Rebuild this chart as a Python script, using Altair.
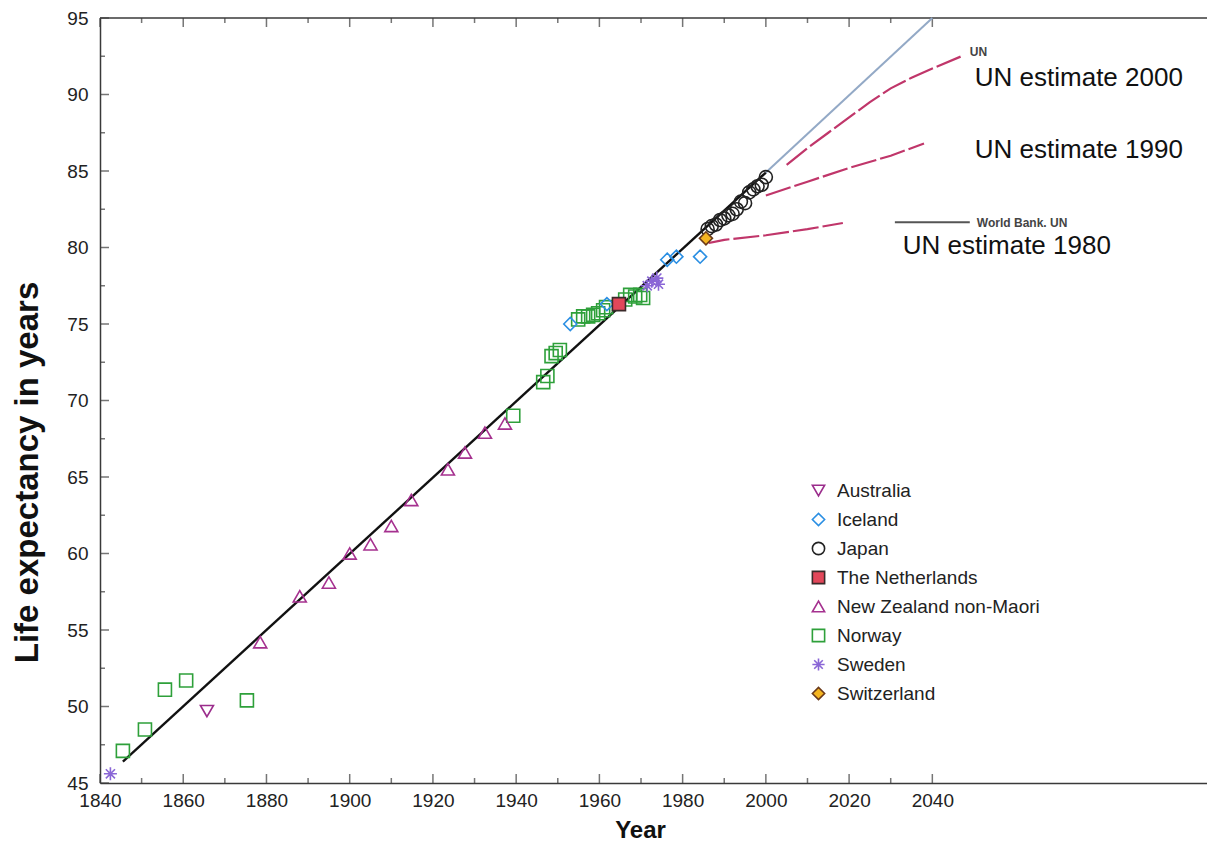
import altair as alt
import pandas as pd

# ---------------- data ----------------
countries = ["Australia", "Iceland", "Japan", "The Netherlands",
             "New Zealand non-Maori", "Norway", "Sweden", "Switzerland"]

australia_year = [1865.7]
australia_le = [49.7]

iceland_year = [1953.0, 1961.8, 1976.3, 1978.5, 1984.2]
iceland_le = [75.0, 76.3, 79.2, 79.4, 79.4]

japan_year = [1986, 1987, 1988, 1989, 1990, 1991, 1992, 1993, 1994, 1995,
              1996, 1997, 1998, 1999, 2000]
japan_le = [81.2, 81.4, 81.5, 81.8, 81.9, 82.1, 82.2, 82.5, 83.0, 82.9,
            83.6, 83.8, 84.0, 84.1, 84.6]

netherlands_year = [1964.7]
netherlands_le = [76.3]

nz_year = [1878.5, 1888.0, 1895.0, 1900.0, 1905.0, 1910.0, 1914.8, 1923.6,
           1927.7, 1932.5, 1937.3]
nz_le = [54.2, 57.2, 58.1, 60.0, 60.6, 61.8, 63.5, 65.5, 66.6, 67.9, 68.5]

norway_year = [1845.5, 1850.8, 1855.6, 1860.7, 1875.3, 1939.3, 1946.5, 1947.5,
               1948.5, 1949.5, 1950.5, 1954.9, 1956.1, 1957.3, 1958.5, 1959.7,
               1960.9, 1961.6, 1966.2, 1967.4, 1968.6, 1969.8, 1970.5]
norway_le = [47.1, 48.5, 51.1, 51.7, 50.4, 69.0, 71.2, 71.6, 72.9, 73.1, 73.3,
             75.3, 75.5, 75.5, 75.6, 75.7, 75.9, 76.1, 76.6, 76.9, 76.8, 76.9,
             76.7]

sweden_year = [1842.5, 1971.5, 1972.6, 1973.8, 1974.2]
sweden_le = [45.6, 77.5, 77.8, 78.0, 77.6]

switzerland_year = [1985.6]
switzerland_le = [80.6]

# best-practice trend line and its extrapolation
trend_year = [1845.5, 2000]
trend_le = [46.4, 84.9]
extrap_year = [2000, 2040]
extrap_le = [84.9, 95.0]

# UN projections
un2000_year = [2005, 2010, 2015, 2020, 2025, 2030, 2035, 2040, 2047]
un2000_le = [85.4, 86.5, 87.5, 88.5, 89.5, 90.4, 91.1, 91.7, 92.5]
un1990_year = [2000, 2010, 2020, 2030, 2038]
un1990_le = [83.4, 84.3, 85.2, 86.0, 86.8]
un1980_year = [1985.6, 1986.5, 1990, 2000, 2010, 2018.5]
un1980_le = [80.6, 80.3, 80.5, 80.8, 81.2, 81.6]
wb_year = [2031, 2049]
wb_le = [81.65, 81.65]

big_labels = ["UN estimate 2000", "UN estimate 1990", "UN estimate 1980"]
big_label_year = [2050.2, 2050.2, 2032.9]
big_label_le = [91.1, 86.4, 80.1]
small_labels = ["UN", "World Bank. UN"]
small_label_year = [2049.0, 2050.7]
small_label_le = [92.8, 81.6]

x_major = [1840, 1860, 1880, 1900, 1920, 1940, 1960, 1980, 2000, 2020, 2040]
x_minor = [1850, 1870, 1890, 1910, 1930, 1950, 1970, 1990, 2010, 2030]
y_major = [45, 50, 55, 60, 65, 70, 75, 80, 85, 90, 95]
y_minor = [47.5, 52.5, 57.5, 62.5, 67.5, 72.5, 77.5, 82.5, 87.5, 92.5]

# ---------------- tables ----------------
rows = []
for name, ys_, ls in [
    ("Norway", norway_year, norway_le),
    ("New Zealand non-Maori", nz_year, nz_le),
    ("Australia", australia_year, australia_le),
    ("Sweden", sweden_year, sweden_le),
    ("Iceland", iceland_year, iceland_le),
    ("The Netherlands", netherlands_year, netherlands_le),
    ("Japan", japan_year, japan_le),
    ("Switzerland", switzerland_year, switzerland_le),
]:
    for yv, lv in zip(ys_, ls):
        rows.append({"year": yv, "le": lv, "country": name})
points_df = pd.DataFrame(rows)

def line_df(years, les, series):
    return pd.DataFrame({"year": years, "le": les, "series": series})

trend_df = line_df(trend_year, trend_le, "trend")
extrap_df = line_df(extrap_year, extrap_le, "extrap")
proj_df = pd.concat([
    line_df(un2000_year, un2000_le, "UN 2000"),
    line_df(un1990_year, un1990_le, "UN 1990"),
    line_df(un1980_year, un1980_le, "UN 1980"),
])
wb_df = line_df(wb_year, wb_le, "wb")

big_df = pd.DataFrame({"year": big_label_year, "le": big_label_le, "label": big_labels})
small_df = pd.DataFrame({"year": small_label_year, "le": small_label_le, "label": small_labels})

FONT = "Liberation Sans, Arial, Helvetica, sans-serif"
W, H = 1107, 765

xs = alt.Scale(domain=[1840, 2106], nice=False, zero=False)
ys = alt.Scale(domain=[45, 95], nice=False, zero=False)
xaxis = alt.Axis(values=x_major, format="d", title="Year", labelFlush=False,
                 labelPadding=8, titleFontSize=24, titleFontWeight="bold",
                 titleFont="Liberation Sans Narrow, Arial Narrow, Liberation Sans, sans-serif",
                 titleX=540, titleY=54, titleAnchor="middle",
                 titleBaseline="alphabetic")
yaxis = alt.Axis(values=y_major, format="d", title="Life expectancy in years",
                 labelFlush=False, labelPadding=12, titleFontSize=33,
                 titleFontWeight="bold", titleX=-73, titleY=454,
                 titleBaseline="middle", titleAngle=270)
X = alt.X("year:Q", scale=xs, axis=xaxis)
Y = alt.Y("le:Q", scale=ys, axis=yaxis)

AX = "#3a3a3a"

def ticks(vals, fixed, orient, size, offset):
    if orient == "vertical":
        df = pd.DataFrame({"year": vals, "le": [fixed] * len(vals)})
        m = alt.Chart(df).mark_tick(orient="vertical", size=size, thickness=1.5,
                                    color=AX, yOffset=offset)
    else:
        df = pd.DataFrame({"year": [fixed] * len(vals), "le": vals})
        m = alt.Chart(df).mark_tick(orient="horizontal", size=size, thickness=1.5,
                                    color=AX, xOffset=offset)
    return m.encode(x=X, y=Y)

tick_layers = [
    ticks(x_major, 45, "vertical", 9, -4.5),
    ticks(x_minor, 45, "vertical", 5, -2.5),
    ticks(x_major, 95, "vertical", 9, 4.5),
    ticks(x_minor, 95, "vertical", 5, 2.5),
    ticks(y_major, 1840, "horizontal", 9, 4.5),
    ticks(y_minor, 1840, "horizontal", 5, 2.5),
]

top_df = pd.DataFrame({"year": [1840, 2106], "le": [95, 95]})
top_border = alt.Chart(top_df).mark_line(color=AX, strokeWidth=1.5).encode(x=X, y=Y)

trend = alt.Chart(trend_df).mark_line(color="#111111", strokeWidth=2.4).encode(x=X, y=Y)
extrap = alt.Chart(extrap_df).mark_line(color="#93a9c6", strokeWidth=2).encode(x=X, y=Y)
proj = alt.Chart(proj_df).mark_line(color="#c0366a", strokeWidth=2.2, strokeDash=[26, 4]).encode(
    x=X, y=Y, detail="series:N")
wb = alt.Chart(wb_df).mark_line(color="#555555", strokeWidth=2).encode(x=X, y=Y)

asterisk = "M-1,0L1,0M0,-1L0,1M-0.7,-0.7L0.7,0.7M-0.7,0.7L0.7,-0.7"
shape_range = ["triangle-down", "diamond", "circle", "square", "triangle-up",
               "square", asterisk, "diamond"]
stroke_range = ["#9b2d8c", "#2b8fe3", "#222222", "#3a2a2a", "#a5318f",
                "#2ea03a", "#8a66d6", "#6b3a1a"]
fill_range = ["transparent", "transparent", "transparent", "#e2475a",
              "transparent", "transparent", "transparent", "#f5b521"]

legend = alt.Legend(title=None, orient="none", legendX=709, legendY=463,
                    labelFontSize=19, labelFont=FONT, labelColor="#222222",
                    symbolSize=150, symbolStrokeWidth=1.6, rowPadding=9,
                    labelOffset=9, padding=0, labelLimit=0)

points = alt.Chart(points_df).mark_point(size=170, strokeWidth=1.6, opacity=1).encode(
    x=X, y=Y,
    shape=alt.Shape("country:N", scale=alt.Scale(domain=countries, range=shape_range),
                    legend=legend, sort=countries),
    stroke=alt.Stroke("country:N", scale=alt.Scale(domain=countries, range=stroke_range),
                      legend=legend, sort=countries),
    fill=alt.Fill("country:N", scale=alt.Scale(domain=countries, range=fill_range),
                  legend=legend, sort=countries),
)

big_text = alt.Chart(big_df).mark_text(align="left", baseline="middle", fontSize=26,
                                       font=FONT, color="#111111").encode(
    x=X, y=Y, text="label:N")
small_text = alt.Chart(small_df).mark_text(align="left", baseline="middle", fontSize=12,
                                           fontWeight="bold", font=FONT,
                                           color="#444444").encode(
    x=X, y=Y, text="label:N")

chart = alt.layer(
    *tick_layers, top_border, extrap, proj, wb, trend, points, big_text, small_text
).properties(
    width=W, height=H,
    autosize=alt.AutoSizeParams(type="none"),
    padding={"left": 92, "top": 10, "right": 0, "bottom": 62},
).configure_view(stroke=None).configure_axis(
    domainColor=AX, domainWidth=1.5, ticks=False, grid=False,
    labelFont=FONT, labelFontSize=19, labelColor="#222222",
    titleFont=FONT, titleColor="#111111",
)

chart.save("out.html", embed_options={"renderer": "svg", "actions": False})
